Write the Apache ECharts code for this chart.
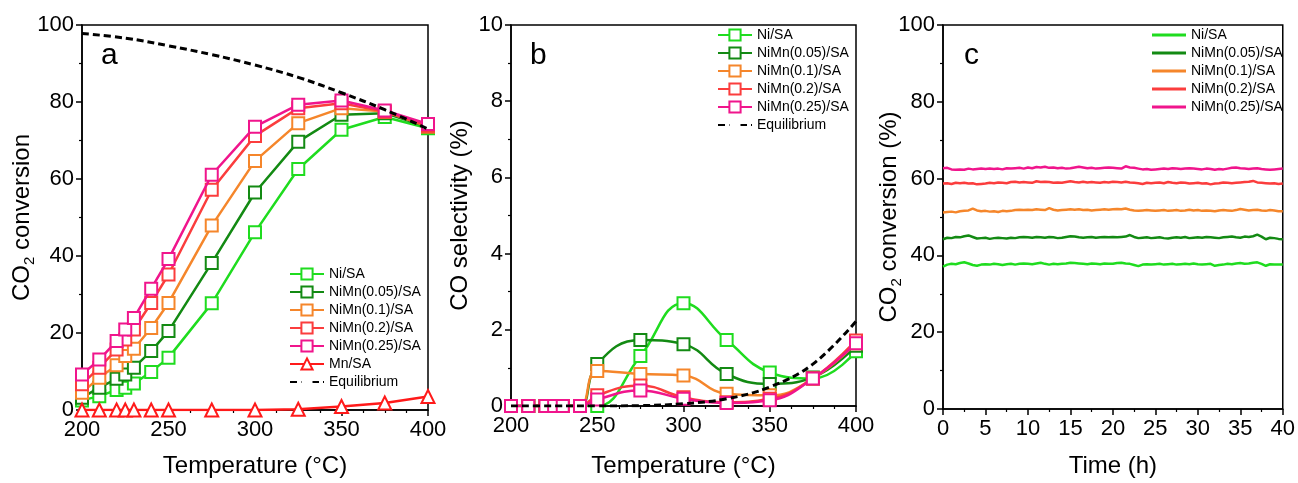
<!DOCTYPE html>
<html><head><meta charset="utf-8">
<script src="https://cdn.jsdelivr.net/npm/echarts@6/dist/echarts.min.js"></script>
<style>html,body{margin:0;padding:0;background:#fff}#c{width:1298px;height:483px}</style>
</head><body><div id="c"></div>
<script>
// ---------- Panel a: CO2 conversion vs temperature ----------
const tempsA = [200,210,220,225,230,240,250,275,300,325,350,375,400];
const convNi    = [2.5,3.6,5.2,5.8,6.9,9.9,13.6,27.7,46.2,62.6,72.8,76.1,73.2];
const conv005   = [3.2,5.8,8.1,9.2,11.0,15.3,20.5,38.2,56.5,69.7,76.7,77.1,73.5];
const conv01    = [4.5,8.4,11.6,14.0,15.9,21.3,27.8,47.9,64.7,74.5,78.4,77.5,73.6];
const conv02    = [6.7,11.0,15.7,18.3,20.9,27.8,35.2,57.2,71.2,78.4,79.7,77.5,73.8];
const conv025   = [9.2,13.1,17.9,20.9,23.9,31.5,39.2,61.1,73.6,79.3,80.4,77.8,74.3];
const convMn    = [0,0,0,0,0,0,0,0,0,0.2,0.9,1.8,3.5];
const eqTempsA  = [200,225,250,275,300,325,350,375,400];
const eqConv    = [97.8,96.6,94.6,92.3,89.6,86.4,82.4,78.0,73.0];

// ---------- Panel b: CO selectivity ----------
const tempsB = [200,210,220,225,230,240,250,275,300,325,350,375,400];
const selNi  = [0,0,0,0,0,0,0,1.31,2.7,1.73,0.88,0.72,1.44];
const sel005 = [0,0,0,0,0,0,1.1,1.73,1.62,0.84,0.58,0.75,1.58];
const sel01  = [0,0,0,0,0,0,0.92,0.84,0.8,0.32,0.28,0.72,1.65];
const sel02  = [0,0,0,0,0,0,0.28,0.54,0.23,0.1,0.19,0.72,1.72];
const sel025 = [0,0,0,0,0,0,0.17,0.41,0.19,0.08,0.15,0.72,1.65];
const eqTempsB = [200,225,250,275,300,325,350,375,400];
const eqSel    = [0,0,0,0.01,0.06,0.19,0.5,1.1,2.22];

// ---------- Panel c: stability over time ----------
const timeC = [0,0.5,1,1.5,2,2.5,3,3.5,4,4.5,5,5.5,6,6.5,7,7.5,8,8.5,9,9.5,
  10,10.5,11,11.5,12,12.5,13,13.5,14,14.5,15,15.5,16,16.5,17,17.5,18,18.5,19,19.5,
  20,20.5,21,21.5,22,22.5,23,23.5,24,24.5,25,25.5,26,26.5,27,27.5,28,28.5,29,29.5,
  30,30.5,31,31.5,32,32.5,33,33.5,34,34.5,35,35.5,36,36.5,37,37.5,38,38.5,39,39.5,40];
const stabNi = [37.1,37.6,37.8,37.7,38.0,38.2,37.9,37.5,37.3,37.6,
  37.7,37.6,37.8,37.7,37.5,37.7,37.8,37.6,37.8,37.9,
  37.8,37.7,37.9,38.1,37.8,37.6,37.8,37.7,37.8,37.9,
  38.1,38.0,37.9,37.8,37.7,37.9,37.8,37.7,37.9,37.8,
  37.8,38.0,38.1,37.9,37.8,37.5,37.2,37.6,37.7,37.6,
  37.7,37.8,37.6,37.7,37.8,37.6,37.7,37.8,37.7,37.9,
  37.7,37.6,37.7,37.8,37.3,37.5,37.6,37.8,37.7,37.9,
  38.0,37.8,37.9,38.1,38.2,37.8,37.3,37.7,37.6,37.6,37.6];
const stab005 = [44.2,44.6,44.5,44.8,44.7,45.0,45.2,44.8,44.4,44.5,
  44.6,44.3,44.5,44.6,44.5,44.4,44.6,44.5,44.7,44.8,
  44.7,44.6,44.8,44.7,44.6,44.8,44.7,44.5,44.6,44.8,
  45.0,44.9,44.7,44.6,44.7,44.8,44.6,44.7,44.8,44.7,
  44.8,44.7,44.8,44.9,45.3,44.8,44.5,44.6,44.7,44.5,
  44.6,44.7,44.5,44.4,44.6,44.7,44.6,44.8,44.5,44.6,
  44.7,44.6,44.8,44.7,44.6,44.5,44.7,44.8,44.9,44.7,
  44.6,44.9,44.8,45.0,45.4,44.9,44.2,44.6,44.5,44.3,44.2];
const stab01 = [51.2,51.3,51.4,51.2,51.5,51.6,51.7,52.2,51.7,51.5,
  51.6,51.4,51.5,51.3,51.6,51.5,51.6,51.8,51.9,51.8,
  51.9,51.8,52.0,51.9,51.8,52.3,51.9,51.7,51.8,51.9,
  52.0,51.9,52.0,51.8,51.9,51.7,51.8,51.9,52.0,51.9,
  52.0,52.1,52.0,52.2,51.9,51.7,51.6,51.7,51.8,51.7,
  51.6,51.7,51.8,51.6,51.7,51.8,51.6,51.7,51.9,51.7,
  51.8,51.6,51.7,51.6,51.5,51.7,51.8,51.7,51.6,51.8,
  52.1,51.9,51.7,51.8,51.9,51.7,51.6,51.8,51.7,51.5,51.5];
const stab02 = [58.7,58.8,58.6,58.9,58.8,58.9,58.7,58.8,58.5,58.6,
  58.7,58.9,58.8,59.0,58.9,58.8,59.1,59.2,59.0,59.1,
  59.0,58.9,59.3,59.1,59.2,59.1,58.9,59.0,58.9,59.1,
  59.3,59.1,59.0,59.2,59.0,59.1,59.0,58.9,59.1,59.0,
  59.2,59.1,59.0,59.2,59.0,58.9,58.8,58.6,58.9,58.8,
  58.9,59.0,58.8,59.1,58.9,58.8,59.0,58.9,58.7,58.8,
  58.9,58.7,58.8,58.5,58.7,58.8,59.0,58.9,58.8,58.9,
  59.0,59.1,59.2,59.4,59.0,58.9,58.8,58.7,58.8,58.6,58.7];
const stab025 = [62.7,62.8,62.4,62.3,62.4,62.3,62.6,62.4,62.5,62.6,
  62.5,62.6,62.5,62.6,62.4,62.7,62.6,62.7,62.8,62.6,
  62.9,62.7,63.0,62.9,63.1,62.8,62.9,62.7,62.8,62.6,
  62.7,62.9,63.1,62.9,62.7,62.8,62.6,62.7,62.8,62.9,
  62.8,62.7,62.6,63.2,62.9,62.8,62.6,62.4,62.5,62.3,
  62.4,62.5,62.6,62.5,62.7,62.6,62.5,62.6,62.7,62.6,
  62.5,62.4,62.6,62.5,62.3,62.5,62.4,62.6,62.8,62.9,
  62.7,62.6,62.5,62.6,62.7,62.5,62.4,62.3,62.4,62.5,62.6];

const names = ['Ni/SA','NiMn(0.05)/SA','NiMn(0.1)/SA','NiMn(0.2)/SA','NiMn(0.25)/SA'];
const colors = ['#1fdc1f','#138a13','#f5862b','#fb3d3d','#f0158c'];
const mnColor = '#ff1a1a';

const FONT = "'Liberation Sans', Arial, sans-serif";
const zip = (xs, ys) => xs.map((x, i) => [x, ys[i]]);

function xAx(grid, min, max, interval, minorSplit, name, gap) {
  return {
    type: 'value', gridIndex: grid, min, max, interval,
    name, nameLocation: 'middle', nameGap: gap, nameMoveOverlap: false,
    nameTextStyle: {fontFamily: FONT, fontSize: 24, color: '#000'},
    axisLine: {show: true, onZero: false, lineStyle: {color: '#000', width: 1.5}},
    axisTick: {show: true, inside: false, length: 6, lineStyle: {color: '#000', width: 1.5}},
    minorTick: {show: true, splitNumber: minorSplit, length: 3, lineStyle: {color: '#000', width: 1.2}},
    axisLabel: {fontFamily: FONT, fontSize: 22, color: '#000', margin: 9},
    splitLine: {show: false}
  };
}
function yAx(grid, min, max, interval, name, gap) {
  return {
    type: 'value', gridIndex: grid, min, max, interval,
    name, nameLocation: 'middle', nameGap: gap, nameMoveOverlap: false,
    nameTextStyle: {fontFamily: FONT, fontSize: 24, color: '#000', lineHeight: 30,
      rich: {s: {fontFamily: FONT, fontSize: 15, color: '#000', verticalAlign: 'bottom', lineHeight: 30}}},
    axisLine: {show: true, onZero: false, lineStyle: {color: '#000', width: 1.5}},
    axisTick: {show: true, inside: false, length: 6, lineStyle: {color: '#000', width: 1.5}},
    minorTick: {show: true, splitNumber: 2, length: 3, lineStyle: {color: '#000', width: 1.2}},
    axisLabel: {fontFamily: FONT, fontSize: 22, color: '#000', margin: 8},
    splitLine: {show: false}
  };
}

const eqStyle = {
  symbol: 'emptyCircle', showSymbol: false, smooth: 0.4,
  lineStyle: {color: '#000', width: 3, type: [7, 4]},
  itemStyle: {color: 'rgba(0,0,0,0)', borderColor: 'rgba(0,0,0,0)'}, z: 9
};

const series = [];
// panel a
const convArr = [convNi, conv005, conv01, conv02, conv025];
convArr.forEach((arr, i) => series.push({
  type: 'line', name: names[i], xAxisIndex: 0, yAxisIndex: 0,
  data: zip(tempsA, arr), symbol: 'emptyRect', symbolSize: 12,
  lineStyle: {color: colors[i], width: 2.5},
  itemStyle: {color: colors[i], borderWidth: 2}, z: 2 + i
}));
series.push({
  type: 'line', name: 'Mn/SA', xAxisIndex: 0, yAxisIndex: 0,
  data: zip(tempsA, convMn), symbol: 'emptyTriangle', symbolSize: 13,
  lineStyle: {color: mnColor, width: 2.5},
  itemStyle: {color: mnColor, borderWidth: 2}, z: 8
});
series.push(Object.assign({type: 'line', name: 'Equilibrium', xAxisIndex: 0, yAxisIndex: 0,
  data: zip(eqTempsA, eqConv)}, eqStyle));
// panel b
const selArr = [selNi, sel005, sel01, sel02, sel025];
selArr.forEach((arr, i) => series.push({
  type: 'line', name: names[i], xAxisIndex: 1, yAxisIndex: 1,
  data: zip(tempsB, arr), symbol: 'emptyRect', symbolSize: 12, smooth: 0.45,
  lineStyle: {color: colors[i], width: 2.5},
  itemStyle: {color: colors[i], borderWidth: 2}, z: 2 + i
}));
series.push(Object.assign({type: 'line', name: 'Equilibrium', xAxisIndex: 1, yAxisIndex: 1,
  data: zip(eqTempsB, eqSel)}, eqStyle));
// panel c
const stabArr = [stabNi, stab005, stab01, stab02, stab025];
stabArr.forEach((arr, i) => series.push({
  type: 'line', name: names[i], xAxisIndex: 2, yAxisIndex: 2,
  data: zip(timeC, arr), symbol: 'none',
  lineStyle: {color: colors[i], width: 2.5},
  itemStyle: {color: colors[i]}, z: 2 + i
}));

const legText = {fontFamily: FONT, fontSize: 14, color: '#000', lineHeight: 14};
const legendBase = {orient: 'vertical', itemWidth: 34, itemHeight: 14, itemGap: 4,
  textStyle: legText, selectedMode: false, padding: 0};

const chart = echarts.init(document.getElementById('c'), null, {renderer: 'canvas'});
chart.setOption({
  backgroundColor: '#fff',
  animation: false,
  grid: [
    {left: 82, width: 346, top: 25, height: 386, show: true, borderColor: '#000', borderWidth: 1.5, backgroundColor: 'transparent'},
    {left: 511, width: 345, top: 25, height: 386, show: true, borderColor: '#000', borderWidth: 1.5, backgroundColor: 'transparent'},
    {left: 943, width: 344, top: 25, height: 386, show: true, borderColor: '#000', borderWidth: 1.5, backgroundColor: 'transparent'}
  ],
  xAxis: [
    xAx(0, 200, 400, 50, 4, 'Temperature (°C)', 44),
    xAx(1, 200, 400, 50, 4, 'Temperature (°C)', 48),
    xAx(2, 0, 40, 5, 2, 'Time (h)', 45)
  ],
  yAxis: [
    yAx(0, 0, 100, 20, 'CO{s|2} conversion', 45),
    yAx(1, 0, 10, 2, 'CO selectivity (%)', 36),
    yAx(2, 0, 100, 20, 'CO{s|2} conversion (%)', 39)
  ],
  legend: [
    Object.assign({}, legendBase, {left: 289, top: 267, data: names.concat(['Mn/SA', 'Equilibrium'])}),
    Object.assign({}, legendBase, {left: 717, top: 28, data: names.concat(['Equilibrium'])}),
    Object.assign({}, legendBase, {left: 1152, top: 28, itemHeight: 3, itemGap: 4,
      data: names.map((n, i) => ({name: n, icon: 'rect', itemStyle: {color: colors[i], borderWidth: 0}}))})
  ],
  graphic: [
    {type: 'text', left: 101, top: 41, style: {text: 'a', font: "30px " + FONT, fill: '#000'}},
    {type: 'text', left: 530, top: 41, style: {text: 'b', font: "30px " + FONT, fill: '#000'}},
    {type: 'text', left: 964, top: 41, style: {text: 'c', font: "30px " + FONT, fill: '#000'}}
  ],
  series
});
</script>
</body></html>
